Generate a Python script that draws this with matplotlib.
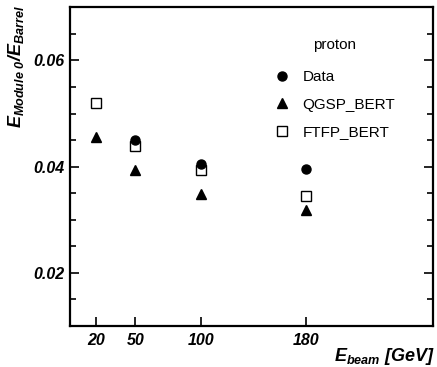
import numpy as np
import matplotlib
matplotlib.use('Agg')
import matplotlib.pyplot as plt
from matplotlib.ticker import MultipleLocator, FixedLocator
from matplotlib.lines import Line2D

# Beam energies and ratios
energy = [20, 50, 100, 180]
data_e = [50, 100, 180]
data_ratio = [0.0450, 0.0405, 0.0396]
qgsp_ratio = [0.0455, 0.0394, 0.0348, 0.0318]
ftfp_ratio = [0.0520, 0.0439, 0.0394, 0.0345]
xtick_vals = [20, 50, 100, 180]
ytick_vals = [0.02, 0.04, 0.06]

plt.rcParams['font.family'] = 'Liberation Sans'
plt.rcParams['mathtext.fontset'] = 'custom'
plt.rcParams['mathtext.it'] = 'Liberation Sans:italic:bold'
plt.rcParams['mathtext.rm'] = 'Liberation Sans:italic:bold'
plt.rcParams['mathtext.bf'] = 'Liberation Sans:italic:bold'

fig = plt.figure(figsize=(4.37, 3.67), dpi=100)
ax = fig.add_axes([0.160, 0.112, 0.831, 0.868])

ax.plot(data_e, data_ratio, 'o', color='black', markersize=6.5, zorder=4)
ax.plot(energy, qgsp_ratio, '^', color='black', markersize=6.5, zorder=3)
ax.plot(energy, ftfp_ratio, 's', markerfacecolor='white', markeredgecolor='black',
        markeredgewidth=1.0, markersize=7, zorder=2)

ax.set_xlim(0, 277)
ax.set_ylim(0.01, 0.07)

ax.xaxis.set_major_locator(FixedLocator(xtick_vals))
ax.set_xticklabels([str(v) for v in xtick_vals])
ax.yaxis.set_major_locator(FixedLocator(ytick_vals))
ax.yaxis.set_minor_locator(MultipleLocator(0.005))
ax.set_yticklabels(['%.2f' % v for v in ytick_vals])

ax.tick_params(axis='both', which='both', direction='in', width=1.2)
ax.tick_params(axis='y', which='both', right=True)
ax.tick_params(axis='x', which='major', length=6.5, pad=5)
ax.tick_params(axis='y', which='major', length=6.5, pad=4)
ax.tick_params(axis='y', which='minor', length=4.5)
for lab in ax.get_xticklabels() + ax.get_yticklabels():
    lab.set_fontsize(11.5)
    lab.set_fontweight('bold')
    lab.set_fontstyle('italic')

for s in ax.spines.values():
    s.set_linewidth(1.6)

ax.set_ylabel(r'$E_{Module\ 0}/E_{Barrel}$', fontsize=13, loc='top')
ax.yaxis.set_label_coords(-0.122, 1.008)
ax.set_xlabel(r'$E_{beam}\ [GeV]$', fontsize=13, loc='right')
ax.xaxis.set_label_coords(1.005, -0.063)

handles = [
    Line2D([], [], linestyle='none', marker='o', color='black', markersize=6.5),
    Line2D([], [], linestyle='none', marker='^', color='black', markersize=6.5),
    Line2D([], [], linestyle='none', marker='s', markerfacecolor='white',
           markeredgecolor='black', markersize=7),
]
leg = ax.legend(handles, ['Data', 'QGSP_BERT', 'FTFP_BERT'], title='proton',
                loc='upper left', bbox_to_anchor=(0.525, 0.946), frameon=False,
                fontsize=11, title_fontsize=11, handletextpad=0.85,
                labelspacing=0.88, handlelength=1.0)
leg._legend_box.sep = 13

fig.savefig('out.png', dpi=100)
